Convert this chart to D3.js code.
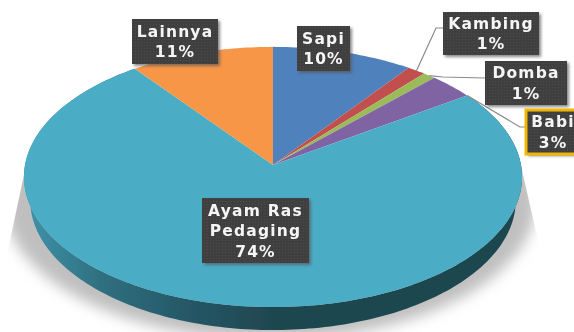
<!DOCTYPE html>
<html>
<head>
<meta charset="utf-8">
<script src="https://cdn.jsdelivr.net/npm/d3@7"></script>
<style>
html,body{margin:0;padding:0;background:#fff;}
svg{display:block;}
text{font-family:"DejaVu Sans",sans-serif;font-weight:bold;fill:#f5f5f5;}
</style>
</head>
<body>
<div id="chart"></div>
<script>
const categories=["Sapi","Kambing","Domba","Babi","Ayam Ras Pedaging","Lainnya"];
const values=[10,1.3,0.9,3.2,74.4,10.2];
const percentLabels=["10%","1%","1%","3%","74%","11%"];
const colors=["#4f81bd","#c0504d","#9bbb59","#8064a2","#4bacc6","#f79646"];

const width=574;
const height=332;

// pie seen in perspective: apex is not the middle of the ellipse
const cx=273, cy=165;
const a=248, b=129, p=0.092;
const depth=23;
const bottomShrink=0.975;

function proj(t,dy,k){
  const u=Math.sin(t), v=-Math.cos(t);
  const w=1-p*v;
  return [cx+(k||1)*a*u/w, cy+b*v/w+(dy||0)];
}

function arcPoints(t0,t1,dy,k){
  const n=Math.max(2,Math.ceil((t1-t0)/0.02));
  return d3.range(n+1).map(i=>proj(t0+(t1-t0)*i/n,dy,k));
}

const line=d3.line();

const svg=d3.select("#chart").append("svg")
  .attr("width",width)
  .attr("height",height);

const defs=svg.append("defs");

const wallGrad=defs.append("linearGradient")
  .attr("id","wall")
  .attr("gradientUnits","userSpaceOnUse")
  .attr("x1",25).attr("x2",522).attr("y1",0).attr("y2",0);
wallGrad.append("stop").attr("offset",0).attr("stop-color","#3f93ab");
wallGrad.append("stop").attr("offset",0.15).attr("stop-color","#2f7080");
wallGrad.append("stop").attr("offset",0.35).attr("stop-color","#245563");
wallGrad.append("stop").attr("offset",0.5).attr("stop-color","#1f4650");
wallGrad.append("stop").attr("offset",1).attr("stop-color","#1f4650");

defs.append("filter").attr("id","shadowBlur")
  .attr("x","-10%").attr("y","-10%").attr("width","120%").attr("height","130%")
  .append("feGaussianBlur").attr("stdDeviation",7);
defs.append("filter").attr("id","boxShadow")
  .attr("x","-20%").attr("y","-20%").attr("width","140%").attr("height","140%")
  .append("feGaussianBlur").attr("stdDeviation",1.5);
defs.append("filter").attr("id","soft")
  .append("feGaussianBlur").attr("stdDeviation",0.45);

defs.append("clipPath").attr("id","shadowClip")
  .append("path")
  .attr("d","M25,170L522,170L539,245L545,265L574,332L0,332L5,265L9,245Z");

const dots=defs.append("pattern")
  .attr("id","dots")
  .attr("width",3).attr("height",3)
  .attr("patternUnits","userSpaceOnUse");
dots.append("rect").attr("width",3).attr("height",3).attr("fill","#3f3f3f");
dots.append("rect").attr("width",1).attr("height",1).attr("fill","#4c4c4c");

const pie=d3.pie().sort(null).value(d=>d);
const slices=pie(values);
const big=slices[categories.indexOf("Ayam Ras Pedaging")];

// shadow under the pie
svg.append("g")
  .attr("clip-path","url(#shadowClip)")
  .append("ellipse")
  .attr("cx",270).attr("cy",202)
  .attr("rx",266).attr("ry",138)
  .attr("fill","#bfbfbf")
  .attr("filter","url(#shadowBlur)");

const pieG=svg.append("g").attr("filter","url(#soft)");

// side wall, the lower rim is a bit narrower
const wallTop=arcPoints(big.startAngle,big.endAngle,0);
const wallBottom=arcPoints(big.startAngle,big.endAngle,depth,bottomShrink).reverse();
pieG.append("path")
  .attr("d",line(wallTop.concat(wallBottom))+"Z")
  .attr("fill","url(#wall)");

// top face
pieG.selectAll(".slice")
  .data(slices)
  .enter()
  .append("path")
  .attr("class","slice")
  .attr("d",d=>line([[cx,cy]].concat(arcPoints(d.startAngle,d.endAngle,0)))+"Z")
  .attr("fill",(d,i)=>colors[i]);

// label boxes (layout only)
const boxes=[
  {x:297,y:26,w:53,h:45},
  {x:443,y:12,w:96,h:43,bend:[[436,28],[443,28]]},
  {x:485,y:61,w:82,h:44,bend:[[443,77],[485,78]]},
  {x:526,y:110,w:60,h:44,bend:[[520,127],[526,127]],gold:true},
  {x:202,y:198,w:107,h:65},
  {x:132,y:19,w:86,h:45}
];

const labelLines=[
  ["Sapi"],["Kambing"],["Domba"],["Babi"],["Ayam Ras","Pedaging"],["Lainnya"]
];

// leader lines
const leaders=svg.append("g");
boxes.forEach((bx,i)=>{
  if(!bx.bend) return;
  const mid=(slices[i].startAngle+slices[i].endAngle)/2;
  const start=i==3?proj(slices[i].endAngle,0):proj(mid,0);
  leaders.append("path")
    .attr("d",line([start].concat(bx.bend)))
    .attr("fill","none")
    .attr("stroke","#8a8a8a")
    .attr("stroke-width",1.2);
});

const labelG=svg.append("g");
boxes.forEach((bx,i)=>{
  labelG.append("rect")
    .attr("x",bx.x+2).attr("y",bx.y+2)
    .attr("width",bx.w).attr("height",bx.h)
    .attr("fill","#555")
    .attr("opacity",0.7)
    .attr("filter","url(#boxShadow)");
  labelG.append("rect")
    .attr("x",bx.x).attr("y",bx.y)
    .attr("width",bx.w).attr("height",bx.h)
    .attr("fill","url(#dots)")
    .attr("stroke",bx.gold?"#f2b600":"none")
    .attr("stroke-width",bx.gold?3:0);

  const rows=labelLines[i].concat([percentLabels[i]]);
  const rowH=20.5;
  const mx=bx.gold?553:bx.x+bx.w/2;
  const top=bx.y+bx.h/2-rows.length*rowH/2;
  rows.forEach((r,j)=>{
    labelG.append("text")
      .attr("x",mx)
      .attr("y",top+rowH*j+rowH/2)
      .attr("dy","0.36em")
      .attr("text-anchor","middle")
      .attr("filter","url(#soft)")
      .style("font-size","15.5px")
      .style("letter-spacing","1.2px")
      .text(r);
  });
});
</script>
</body>
</html>
